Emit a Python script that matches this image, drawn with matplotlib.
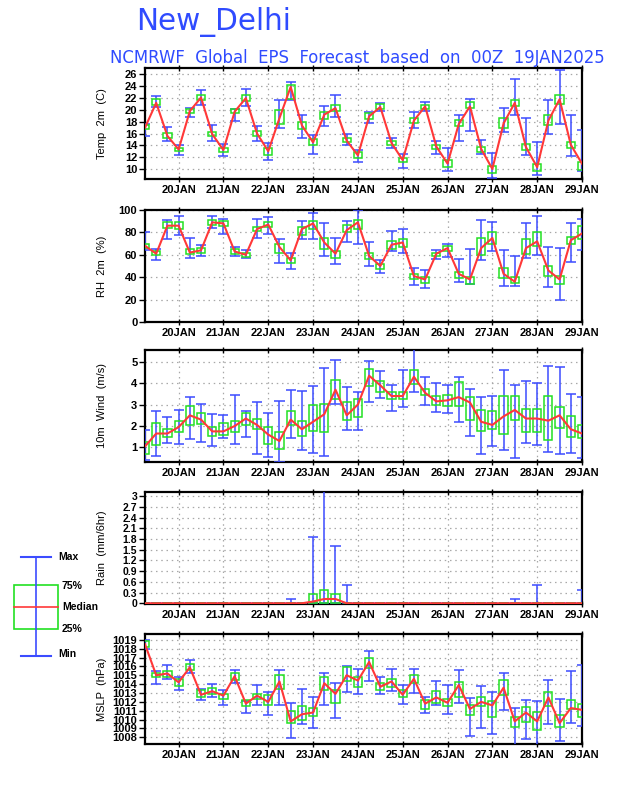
import matplotlib
matplotlib.use("Agg")
import matplotlib.pyplot as plt
import numpy as np

# ---------------- data ----------------
hours = list(range(6, 241, 6))          # forecast hours from 19JAN2025 00Z
day_ticks = list(range(24, 241, 24))
day_labels = ["20JAN", "21JAN", "22JAN", "23JAN", "24JAN",
              "25JAN", "26JAN", "27JAN", "28JAN", "29JAN"]

# Temperature 2m (C)
t_med = [17.0, 21.2, 15.6, 13.3, 19.8, 22.1, 15.9, 13.2, 19.7, 22.0,
         16.0, 13.0, 18.6, 23.9, 17.4, 14.5, 19.2, 20.3, 14.8, 12.3,
         18.9, 20.5, 14.4, 11.5, 18.2, 20.6, 13.8, 10.9, 17.6, 20.6,
         13.4, 10.0, 17.7, 21.2, 13.7, 10.3, 18.2, 21.8, 14.1, 10.9]
t_q1 = [16.7, 20.8, 15.2, 13.0, 19.5, 21.6, 15.5, 12.9, 19.4, 21.5,
        15.6, 12.4, 17.6, 21.9, 16.7, 14.0, 18.5, 19.8, 14.5, 11.9,
        18.5, 20.2, 14.0, 11.2, 17.8, 20.2, 13.4, 10.4, 17.2, 20.3,
        12.8, 9.4, 17.0, 20.6, 13.2, 9.6, 17.5, 21.0, 13.6, 9.8]
t_q3 = [17.5, 21.8, 16.1, 13.6, 20.1, 22.6, 16.3, 13.6, 20.1, 22.6,
        16.5, 13.5, 20.0, 24.2, 18.0, 15.0, 19.6, 20.9, 15.2, 12.8,
        19.4, 21.0, 14.7, 11.9, 18.7, 20.9, 14.1, 11.5, 18.3, 21.4,
        13.8, 10.5, 18.6, 21.7, 14.2, 10.9, 19.2, 22.5, 14.6, 11.1]
t_min = [15.6, 20.5, 14.7, 12.3, 18.8, 20.8, 14.8, 12.2, 18.2, 20.6,
         14.8, 11.6, 16.9, 21.7, 15.3, 12.6, 17.3, 18.8, 14.1, 11.1,
         17.8, 19.8, 13.6, 10.2, 16.9, 19.8, 12.6, 9.6, 14.8, 16.5,
         12.5, 8.5, 16.3, 19.2, 12.4, 8.9, 15.9, 17.7, 12.2, 9.6]
t_max = [17.6, 22.4, 17.1, 14.1, 20.4, 23.4, 17.4, 14.3, 20.2, 23.6,
         17.3, 14.4, 21.7, 24.7, 19.1, 15.7, 20.6, 22.5, 16.0, 13.2,
         19.6, 21.2, 15.2, 12.6, 19.6, 21.4, 14.8, 13.6, 19.1, 21.8,
         14.9, 12.7, 20.3, 25.2, 18.7, 14.6, 21.7, 26.8, 19.1, 16.6]

# Relative humidity 2m (%)
rh_med = [68, 61, 86, 86, 62, 64, 89, 88, 63, 60,
          83, 87, 67, 55, 83, 88, 71, 61, 82, 89,
          59, 50, 69, 71, 41, 38, 61, 66, 43, 38,
          66, 75, 43, 36, 66, 72, 46, 38, 73, 79]
rh_q1 = [66, 60, 84, 83, 61, 62, 87, 86, 61, 58,
         81, 85, 62, 53, 78, 83, 65, 57, 80, 83,
         56, 47, 65, 67, 38, 35, 59, 63, 39, 34,
         60, 70, 39, 35, 61, 68, 41, 34, 70, 74]
rh_q3 = [70, 63, 89, 89, 65, 66, 91, 90, 65, 62,
         85, 89, 70, 57, 85, 90, 75, 63, 87, 91,
         62, 52, 72, 74, 43, 40, 62, 68, 45, 40,
         75, 80, 48, 40, 74, 80, 50, 41, 76, 86]
rh_min = [64, 55, 74, 78, 57, 59, 84, 79, 59, 57,
          75, 79, 53, 47, 74, 74, 59, 52, 71, 70,
          50, 44, 63, 62, 33, 30, 56, 58, 36, 34,
          55, 63, 32, 32, 57, 60, 31, 20, 54, 64]
rh_max = [80, 65, 91, 95, 75, 69, 95, 92, 67, 64,
          92, 94, 74, 62, 90, 97, 88, 75, 90, 100,
          71, 55, 81, 83, 48, 46, 64, 70, 56, 65,
          91, 89, 64, 59, 88, 95, 67, 66, 88, 92]

# 10m wind (m/s)
w_med = [1.05, 1.65, 1.65, 1.95, 2.5, 2.3, 1.75, 1.75, 2.0, 2.35,
         2.05, 1.6, 1.3, 2.3, 1.85, 2.2, 2.55, 3.7, 2.5, 3.0,
         4.35, 3.9, 3.4, 3.4, 4.3, 3.55, 3.15, 3.2, 3.35, 3.1,
         2.2, 2.05, 2.45, 2.75, 2.35, 2.35, 2.25, 2.5, 1.85, 1.65]
w_q1 = [0.7, 1.1, 1.5, 1.7, 2.05, 2.1, 1.55, 1.6, 1.7, 2.05,
        1.85, 1.15, 0.95, 2.05, 1.55, 1.75, 1.7, 3.25, 2.3, 2.4,
        3.85, 3.6, 3.25, 3.25, 3.95, 3.45, 3.0, 2.95, 2.95, 2.3,
        1.75, 1.85, 1.65, 2.3, 1.7, 1.7, 1.35, 1.9, 1.5, 1.45]
w_q3 = [1.25, 2.15, 1.85, 2.25, 2.95, 2.6, 1.95, 2.15, 2.25, 2.6,
        2.35, 1.95, 1.7, 2.7, 2.25, 3.0, 3.05, 4.15, 3.1, 3.25,
        4.65, 4.1, 3.6, 3.6, 4.6, 3.75, 3.4, 3.45, 4.05, 3.35,
        2.75, 2.7, 3.4, 3.4, 2.8, 2.8, 3.4, 2.9, 2.45, 2.05]
w_min = [0.4, 0.6, 1.2, 1.15, 1.4, 1.25, 1.05, 1.45, 1.15, 1.5,
         0.7, 0.55, 0.3, 1.45, 0.9, 0.75, 0.6, 3.05, 1.8, 1.8,
         3.1, 3.3, 2.7, 2.9, 3.6, 3.0, 2.65, 2.6, 2.2, 1.55,
         0.7, 1.05, 0.9, 0.5, 1.2, 1.1, 0.8, 0.7, 0.75, 0.5]
w_max = [1.8, 2.7, 2.4, 2.75, 3.35, 3.05, 2.55, 2.5, 3.45, 2.7,
         3.1, 2.6, 3.15, 3.7, 3.65, 3.85, 4.7, 5.1, 3.8, 3.6,
         5.05, 4.55, 3.9, 4.6, 5.6, 4.3, 4.0, 3.9, 4.3, 3.75,
         3.35, 3.4, 4.6, 3.9, 4.1, 4.0, 4.8, 4.75, 3.5, 3.35]

# Rain (mm/6hr)
r_med = [0, 0, 0, 0, 0, 0, 0, 0, 0, 0,
         0, 0, 0, 0, 0, 0.05, 0.12, 0.12, 0, 0,
         0, 0, 0, 0, 0, 0, 0, 0, 0, 0,
         0, 0, 0, 0, 0, 0, 0, 0, 0, 0]
r_q1 = [0] * 40
r_q3 = [0, 0, 0, 0, 0, 0, 0, 0, 0, 0,
        0, 0, 0, 0, 0, 0.25, 0.37, 0.25, 0, 0,
        0, 0, 0, 0, 0, 0, 0, 0, 0, 0,
        0, 0, 0, 0, 0, 0, 0, 0, 0, 0]
r_min = [0] * 40
r_max = [0, 0, 0, 0, 0, 0, 0, 0, 0, 0,
         0, 0, 0, 0.12, 0, 1.87, 3.3, 1.62, 0.5, 0,
         0, 0, 0, 0, 0, 0, 0, 0, 0, 0,
         0, 0, 0, 0.12, 0, 0.5, 0, 0, 0, 0.38]

# MSLP (hPa)
p_med = [1018.5, 1015.0, 1015.2, 1014.2, 1015.9, 1012.8, 1013.2, 1012.7, 1014.9, 1011.8,
         1012.7, 1012.0, 1014.3, 1009.8, 1010.6, 1010.8, 1014.1, 1012.9, 1015.0, 1014.4,
         1016.5, 1013.7, 1014.3, 1012.8, 1014.6, 1011.8, 1012.5, 1011.9, 1013.9, 1011.2,
         1012.0, 1011.6, 1013.6, 1009.8, 1010.8, 1009.8, 1012.5, 1009.6, 1011.3, 1011.1]
p_q1 = [1018.2, 1014.8, 1014.8, 1013.8, 1015.6, 1012.5, 1012.9, 1012.3, 1014.5, 1011.5,
        1012.3, 1011.6, 1013.5, 1009.6, 1010.0, 1010.4, 1013.3, 1011.9, 1014.4, 1013.7,
        1015.8, 1013.3, 1013.7, 1012.6, 1014.1, 1011.2, 1011.9, 1011.5, 1012.6, 1010.5,
        1011.5, 1010.3, 1012.8, 1009.2, 1009.7, 1008.8, 1011.5, 1009.2, 1011.2, 1010.3]
p_q3 = [1018.9, 1015.3, 1015.5, 1014.6, 1016.3, 1013.3, 1013.6, 1012.9, 1015.3, 1012.2,
        1012.9, 1012.8, 1015.0, 1011.0, 1011.5, 1011.3, 1014.8, 1013.3, 1015.9, 1014.8,
        1016.9, 1014.1, 1014.6, 1013.3, 1015.0, 1012.2, 1013.2, 1012.3, 1014.2, 1011.6,
        1012.6, 1012.1, 1014.5, 1010.3, 1011.4, 1010.9, 1013.1, 1010.5, 1012.2, 1011.8]
p_min = [1018.0, 1014.0, 1014.6, 1013.3, 1015.3, 1012.2, 1012.6, 1011.7, 1014.1, 1010.7,
         1011.7, 1010.5, 1011.6, 1007.9, 1009.5, 1009.0, 1011.7, 1010.2, 1013.1, 1012.9,
         1014.4, 1012.9, 1013.2, 1011.8, 1013.0, 1010.7, 1011.7, 1010.6, 1011.9, 1008.2,
         1009.1, 1008.4, 1011.1, 1007.0, 1007.8, 1007.1, 1009.5, 1007.6, 1009.6, 1009.3]
p_max = [1019.0, 1015.5, 1016.2, 1014.8, 1016.7, 1013.5, 1014.0, 1013.3, 1015.6, 1012.1,
         1013.9, 1013.1, 1015.6, 1011.9, 1013.4, 1012.5, 1015.2, 1014.1, 1016.0, 1015.7,
         1017.7, 1014.8, 1015.7, 1013.9, 1015.7, 1012.6, 1014.4, 1013.9, 1015.6, 1012.4,
         1013.8, 1013.1, 1015.3, 1011.3, 1012.2, 1012.1, 1014.5, 1012.3, 1015.5, 1016.1]

# ---------------- style ----------------
BLUE = "#3c4cff"
GREEN = "#22e022"
RED = "#ff3838"
TITLE_BLUE = "#2f4bff"
FONT = "Liberation Sans"
TITLE_FONT = ["DejaVu Sans"]

W, H = 618, 800
fig = plt.figure(figsize=(W / 100, H / 100), dpi=100)

def ax_rect(top, bottom, left=145, right=582):
    return [left / W, 1 - bottom / H, (right - left) / W, (bottom - top) / H]

panels = [
    dict(rect=ax_rect(68, 179), med=t_med, q1=t_q1, q3=t_q3, lo=t_min, hi=t_max,
         ylim=(8.3, 27.1), yticks=np.arange(10, 27, 2), label="Temp  2m  (C)"),
    dict(rect=ax_rect(210, 322), med=rh_med, q1=rh_q1, q3=rh_q3, lo=rh_min, hi=rh_max,
         ylim=(0, 100), yticks=np.arange(0, 101, 20), label="RH  2m  (%)"),
    dict(rect=ax_rect(350, 462), med=w_med, q1=w_q1, q3=w_q3, lo=w_min, hi=w_max,
         ylim=(0.32, 5.55), yticks=np.arange(1, 6, 1), label="10m  Wind  (m/s)"),
    dict(rect=ax_rect(492, 604), med=r_med, q1=r_q1, q3=r_q3, lo=r_min, hi=r_max,
         ylim=(-0.02, 3.12), yticks=np.round(np.arange(0, 3.01, 0.3), 1),
         label="Rain  (mm/6hr)"),
    dict(rect=ax_rect(634, 744), med=p_med, q1=p_q1, q3=p_q3, lo=p_min, hi=p_max,
         ylim=(1007.25, 1019.65), yticks=np.arange(1008, 1020, 1), label="MSLP  (hPa)"),
]

x = np.array(hours, dtype=float)
box_w = 4.4
cap_w = 5.4

for k, p in enumerate(panels):
    ax = fig.add_axes(p["rect"])
    ax.set_xlim(6, 240)
    ax.set_ylim(*p["ylim"])
    lo = np.array(p["lo"], float); hi = np.array(p["hi"], float)
    q1 = np.array(p["q1"], float); q3 = np.array(p["q3"], float)
    ax.vlines(x, lo, hi, color=BLUE, lw=1.1, zorder=3)
    ax.hlines(hi, x - cap_w / 2, x + cap_w / 2, color=BLUE, lw=1.1, zorder=3)
    ax.hlines(lo, x - cap_w / 2, x + cap_w / 2, color=BLUE, lw=1.1, zorder=3)
    ax.bar(x, q3 - q1, bottom=q1, width=box_w, fill=False, edgecolor=GREEN,
           lw=1.1, zorder=4)
    ax.plot(x, p["med"], color=RED, lw=1.5, zorder=5)

    ax.set_xticks(day_ticks)
    ax.set_xticklabels(day_labels)
    ax.set_yticks(p["yticks"])
    ax.set_yticklabels(["{:g}".format(v) for v in p["yticks"]])
    ax.grid(True, color="#a8a8a8", ls=(0, (1.2, 3)), lw=0.9)
    ax.tick_params(axis="x", direction="inout", length=5, width=1, pad=2,
                   top=True, labelsize=8)
    ax.tick_params(axis="y", direction="out", length=4, width=1, pad=1.5,
                   labelsize=7.5 if k == 3 else 8)
    for lab in ax.get_xticklabels() + ax.get_yticklabels():
        lab.set_fontweight("bold")
        lab.set_family(FONT)
    for s in ax.spines.values():
        s.set_linewidth(1.6)
    ax.set_ylabel(p["label"], fontsize=8, family=FONT)
    ax.yaxis.set_label_coords(-0.087, 0.5)

# titles (scaled to match the reference widths)
fig.canvas.draw()
renderer = fig.canvas.get_renderer()

def fitted_text(xc, yc, s, size, target_w, **kw):
    t = fig.text(xc / W, 1 - yc / H, s, fontsize=size, ha="center", va="center", **kw)
    w = t.get_window_extent(renderer).width
    t.set_fontsize(size * target_w / w)
    return t

fitted_text(214, 22, "New_Delhi", 20, 155, color=TITLE_BLUE, family=TITLE_FONT)
fitted_text(357, 58, "NCMRWF  Global  EPS  Forecast  based  on  00Z  19JAN2025",
            10, 495, color=TITLE_BLUE, family=TITLE_FONT)

# key
kx = fig.add_axes([0, 0, 1, 1], facecolor="none")
kx.set_xlim(0, W); kx.set_ylim(H, 0); kx.axis("off")
kx.plot([36, 36], [557, 656], color=BLUE, lw=1.2)
kx.plot([21, 51], [557, 557], color=BLUE, lw=1.5)
kx.plot([21, 51], [656, 656], color=BLUE, lw=1.5)
kx.add_patch(plt.Rectangle((14, 585), 44, 44, fill=False, edgecolor=GREEN, lw=1.2))
kx.plot([14, 58], [607, 607], color=RED, lw=1.2)
for txt, ty, tx in [("Max", 557, 58), ("75%", 586, 62), ("Median", 607, 62),
                    ("25%", 629, 62), ("Min", 654, 58)]:
    kx.text(tx, ty, txt, fontsize=7.5, fontweight="bold", family=FONT, va="center")

fig.savefig("out.png", dpi=100)
